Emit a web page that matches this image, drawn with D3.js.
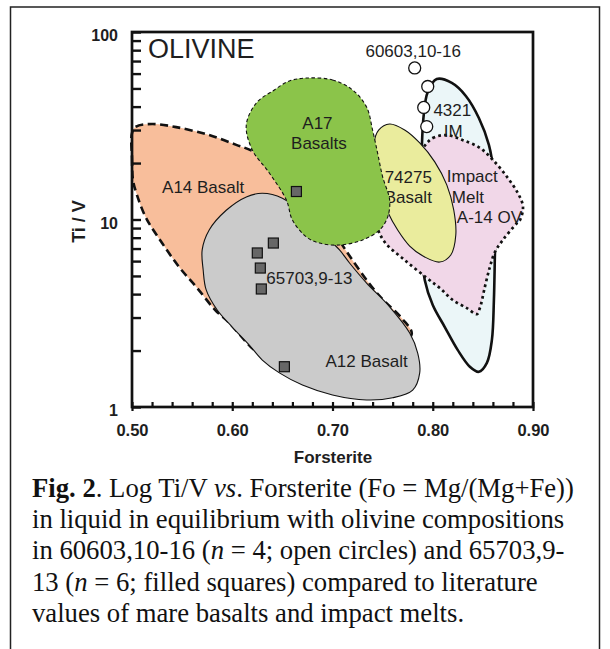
<!DOCTYPE html>
<html>
<head>
<meta charset="utf-8">
<script src="https://cdn.jsdelivr.net/npm/d3@7"></script>
<style>
  body { margin: 0; background: #fff; }
  svg text { font-family: "Liberation Sans", Arial, Helvetica, sans-serif; fill: #1e1e1e; }
  svg text.caption { font-family: "Liberation Serif", "Times New Roman", serif; fill: #111; }
</style>
</head>
<body>
<div id="chart"></div>
<script>
// field outlines, [Forsterite, Ti/V]
const a14Basalt = [
    [0.500, 28.9], [0.500, 21.3], [0.501, 16.2], [0.505, 13.5], [0.514, 10.2], [0.530, 7.49],
    [0.547, 5.58], [0.565, 4.31], [0.583, 3.29], [0.597, 2.81], [0.614, 2.22], [0.622, 2.01],
    [0.642, 1.74], [0.682, 1.64], [0.727, 1.74], [0.762, 2.06], [0.779, 2.45], [0.769, 2.98],
    [0.745, 4.01], [0.713, 6.88], [0.687, 11.5], [0.652, 17.9], [0.620, 23.2], [0.604, 25.0],
    [0.577, 28.2], [0.544, 31.1], [0.520, 32.3], [0.504, 31.3]
];
const a12Basalt = [
    [0.630, 13.8], [0.650, 13.0], [0.672, 10.6], [0.692, 8.27], [0.707, 6.88], [0.717, 5.86],
    [0.734, 4.58], [0.757, 3.42], [0.777, 2.48], [0.785, 1.94], [0.787, 1.52], [0.780, 1.23],
    [0.760, 1.12], [0.734, 1.09], [0.700, 1.16], [0.670, 1.31], [0.647, 1.52], [0.630, 1.78],
    [0.617, 2.14], [0.600, 2.67], [0.585, 3.29], [0.574, 4.21], [0.571, 5.38], [0.570, 6.88],
    [0.577, 8.79], [0.594, 11.2], [0.614, 13.2]
];
const a17Basalts = [
    [0.674, 56.8], [0.700, 55.5], [0.720, 49.1], [0.734, 39.8], [0.740, 30.0], [0.745, 22.6],
    [0.750, 16.9], [0.757, 12.7], [0.755, 10.3], [0.747, 8.79], [0.730, 7.78], [0.707, 7.31],
    [0.687, 7.49], [0.674, 8.07], [0.660, 9.94], [0.654, 12.7], [0.637, 17.7], [0.620, 23.5],
    [0.614, 31.9], [0.624, 41.8], [0.642, 49.1], [0.657, 54.8]
];
const basalt74275 = [
    [0.757, 32.3], [0.772, 30.0], [0.787, 25.6], [0.802, 20.3], [0.814, 15.3], [0.821, 11.2],
    [0.823, 8.27], [0.818, 6.47], [0.807, 5.93], [0.792, 6.31], [0.777, 7.22], [0.765, 8.79],
    [0.755, 11.0], [0.747, 14.4], [0.742, 19.5], [0.741, 25.0], [0.746, 30.0]
];
const im14321 = [
    [0.804, 56.1], [0.819, 53.5], [0.833, 45.6], [0.846, 34.8], [0.856, 25.0], [0.861, 17.3],
    [0.863, 10.6], [0.862, 6.47], [0.861, 3.72], [0.859, 2.28], [0.854, 1.72], [0.846, 1.54],
    [0.837, 1.64], [0.825, 2.01], [0.812, 2.67], [0.800, 3.50], [0.792, 4.76], [0.789, 6.88],
    [0.788, 12.7], [0.789, 23.5], [0.791, 36.1], [0.795, 47.9]
];
const impactMeltA14 = [
    [0.790, 24.1], [0.800, 27.2], [0.814, 28.2], [0.830, 26.5], [0.847, 24.1], [0.860, 20.8],
    [0.874, 16.9], [0.885, 13.8], [0.890, 11.7], [0.887, 9.94], [0.884, 9.58], [0.870, 7.78],
    [0.862, 6.71], [0.857, 5.58], [0.852, 4.37], [0.847, 3.37], [0.844, 3.13], [0.834, 3.37],
    [0.820, 3.72], [0.807, 4.31], [0.794, 4.88], [0.772, 6.08], [0.752, 7.59], [0.745, 9.35],
    [0.757, 13.5], [0.772, 18.4]
];

// measured olivines
const s60603 = [[0.782, 64.3], [0.795, 51.2], [0.791, 39.6], [0.794, 31.3]];
const s65703 = [[0.664, 14.1], [0.641, 7.49], [0.625, 6.63], [0.628, 5.51], [0.629, 4.26], [0.652, 1.64]];

// axes
const foMajor = [0.5, 0.6, 0.7, 0.8, 0.9];
const foMinor = d3.range(25, 46).map(i => i * 0.02);
const tivMajor = [1, 10, 100];
const tivMinor = [2, 3, 4, 5, 6, 7, 8, 9, 20, 30, 40, 50, 60, 70, 80, 90];

// field labels: text, [Fo, Ti/V] of the baseline anchor, anchor
const fieldLabels = {
    a14: [["A14 Basalt", [0.571, 13.9], "middle"]],
    a12: [["65703,9-13", [0.634, 4.53], "start"], ["A12 Basalt", [0.734, 1.63], "middle"]],
    b74275: [["74275", [0.752, 15.6], "start"], ["Basalt", [0.752, 12.2], "start"]],
    a17: [["A17", [0.685, 30.3], "middle"], ["Basalts", [0.6865, 23.7], "middle"]],
    top: [
        ["4321", [0.8195, 35.6], "middle"], ["IM", [0.8205, 27.5], "middle"],
        ["Impact", [0.814, 15.9], "start"], ["Melt", [0.819, 12.2], "start"],
        ["A-14 OV", [0.824, 9.54], "start"],
        ["60603,10-16", [0.7805, 73.6], "middle"]
    ]
};

const captionLines = [
    [["Fig. 2", "bold"], [". Log Ti/V ", ""], ["vs", "italic"], [". Forsterite (Fo = Mg/(Mg+Fe))", ""]],
    [["in liquid in equilibrium with olivine compositions", ""]],
    [["in 60603,10-16 (", ""], ["n", "italic"], [" = 4; open circles) and 65703,9-", ""]],
    [["13 (", ""], ["n", "italic"], [" = 6; filled squares) compared to literature", ""]],
    [["values of mare basalts and impact melts.", ""]]
];

const width = 610, height = 649;
const plot = {left: 132, right: 533, top: 32, bottom: 407};

const svg = d3.select("#chart").append("svg")
    .attr("width", width)
    .attr("height", height)
    .style("display", "block");

svg.append("rect")
    .attr("x", 10.5).attr("y", 7)
    .attr("width", 589).attr("height", 700)
    .attr("fill", "#fff").attr("stroke", "#222").attr("stroke-width", 1.5);

const x = d3.scaleLinear().domain([0.5, 0.9]).range([plot.left, plot.right]);
const y = d3.scaleLog().domain([1, 100]).range([plot.bottom, plot.top]);

const outline = d3.line()
    .x(d => x(d[0]))
    .y(d => y(d[1]))
    .curve(d3.curveCatmullRomClosed.alpha(0.5));

const fields = [
    {pts: a14Basalt, fill: "#f8be9b", sw: 2.6, dash: "8,4.5", labels: "a14"},
    {pts: a12Basalt, fill: "#cbcbcb", sw: 1.1, dash: null, labels: "a12"},
    {pts: im14321, fill: "#ebf6f8", sw: 2.6, dash: null},
    {pts: impactMeltA14, fill: "#f1d7e8", sw: 2.7, dash: "2.7,3.2"},
    {pts: basalt74275, fill: "#eaec9d", sw: 1.1, dash: null, labels: "b74275"},
    {pts: a17Basalts, fill: "#8bc44a", sw: 1.1, dash: "3.5,2.5", labels: "a17"}
];

const gFields = svg.append("g");

function drawLabels(g, key){
    g.selectAll(null)
        .data(fieldLabels[key])
        .join("text")
            .attr("x", d => x(d[1][0]))
            .attr("y", d => y(d[1][1]))
            .attr("text-anchor", d => d[2])
            .attr("font-size", 17)
            .text(d => d[0]);
}

fields.forEach(f => {
    gFields.append("path")
        .attr("d", outline(f.pts))
        .attr("fill", f.fill)
        .attr("stroke", "#111")
        .attr("stroke-width", f.sw)
        .attr("stroke-dasharray", f.dash);
    if (f.labels) drawLabels(gFields, f.labels);
});
drawLabels(gFields, "top");

// olivine points
svg.append("g").selectAll("rect")
    .data(s65703)
    .join("rect")
        .attr("x", d => x(d[0]) - 5)
        .attr("y", d => y(d[1]) - 5)
        .attr("width", 10).attr("height", 10)
        .attr("fill", "#676767").attr("stroke", "#111").attr("stroke-width", 1.2);

svg.append("g").selectAll("circle")
    .data(s60603)
    .join("circle")
        .attr("cx", d => x(d[0]))
        .attr("cy", d => y(d[1]))
        .attr("r", 6)
        .attr("fill", "#fff").attr("stroke", "#111").attr("stroke-width", 1.3);

// frame
svg.append("rect")
    .attr("x", plot.left).attr("y", plot.top)
    .attr("width", plot.right - plot.left).attr("height", plot.bottom - plot.top)
    .attr("fill", "none").attr("stroke", "#111").attr("stroke-width", 2.7);

// y axis, ticks pointing inwards
const yAxis = svg.append("g")
    .attr("transform", `translate(${plot.left},0)`)
    .call(d3.axisLeft(y)
        .tickValues(tivMajor.concat(tivMinor))
        .tickSizeInner(-9).tickSizeOuter(0).tickPadding(14)
        .tickFormat(d => tivMajor.includes(d) ? d3.format("d")(d) : ""));
yAxis.select(".domain").remove();
yAxis.selectAll(".tick line").attr("stroke", "#111").attr("stroke-width", 2.4);
yAxis.selectAll(".tick text")
    .attr("dy", "0.55em")
    .attr("font-size", 16).attr("font-weight", "bold").attr("fill", "#1e1e1e")
    .attr("font-family", null);

// x axis: minor ticks inwards, majors across the line
const xMinor = svg.append("g")
    .attr("transform", `translate(0,${plot.bottom})`)
    .call(d3.axisBottom(x).tickValues(foMinor).tickSizeInner(-5).tickSizeOuter(0).tickFormat(""));
xMinor.select(".domain").remove();
xMinor.selectAll(".tick line").attr("stroke", "#111").attr("stroke-width", 2.2);

const xAxis = svg.append("g")
    .attr("transform", `translate(0,${plot.bottom})`)
    .call(d3.axisBottom(x).tickValues(foMajor).tickSizeInner(4).tickSizeOuter(0).tickPadding(13)
        .tickFormat(d3.format(".2f")));
xAxis.select(".domain").remove();
xAxis.selectAll(".tick line").attr("stroke", "#111").attr("stroke-width", 2.2);
xAxis.selectAll(".tick text")
    .attr("font-size", 16.5).attr("font-weight", "bold").attr("fill", "#1e1e1e")
    .attr("font-family", null);

// titles
svg.append("text")
    .attr("x", (plot.left + plot.right) / 2 + 0.5)
    .attr("y", 463)
    .attr("text-anchor", "middle")
    .attr("font-size", 17).attr("font-weight", "bold")
    .text("Forsterite");

svg.append("text")
    .attr("transform", `translate(85,${(plot.top + plot.bottom) / 2 + 2}) rotate(-90)`)
    .attr("text-anchor", "middle")
    .attr("font-size", 18).attr("font-weight", "bold")
    .text("Ti / V");

svg.append("text")
    .attr("x", x(0.516)).attr("y", y(72.4))
    .attr("font-size", 27)
    .text("OLIVINE");

// caption
const cap = svg.append("g");
captionLines.forEach((line, i) => {
    const t = cap.append("text")
        .attr("class", "caption")
        .attr("x", 32)
        .attr("y", 497 + i * 31.2)
        .attr("font-size", 26.7);
    line.forEach(([s, style]) => {
        t.append("tspan")
            .attr("font-weight", style === "bold" ? "bold" : null)
            .attr("font-style", style === "italic" ? "italic" : null)
            .text(s);
    });
});
</script>
</body>
</html>
